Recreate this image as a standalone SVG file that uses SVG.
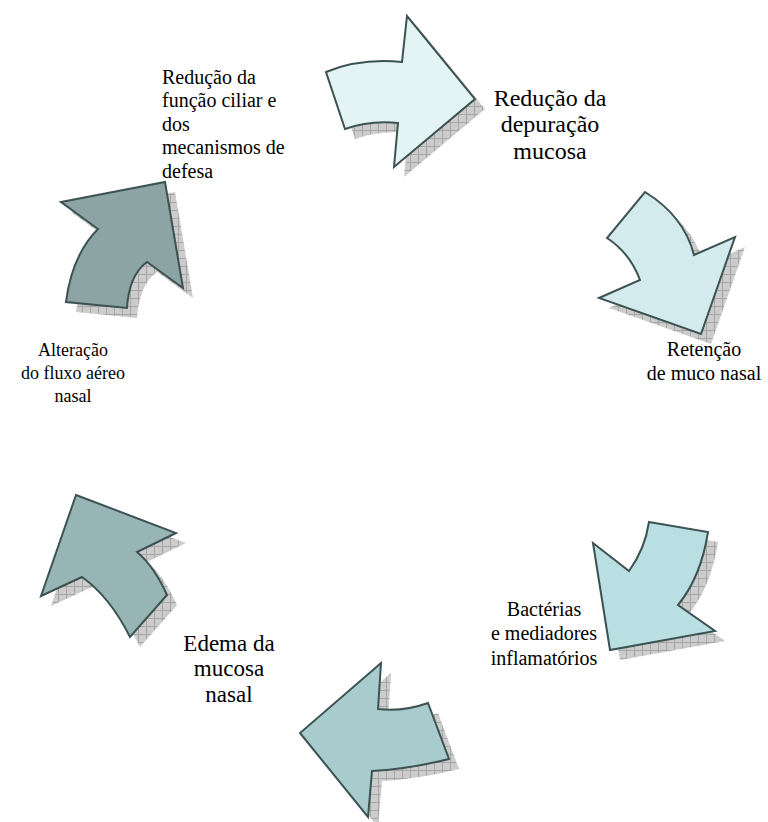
<svg xmlns="http://www.w3.org/2000/svg" width="768" height="822" viewBox="0 0 768 822">
<defs>
<pattern id="hatch" width="8" height="8" patternUnits="userSpaceOnUse">
<rect width="8" height="8" fill="#cccccc"/>
<path d="M0,0.5H8M0.5,0V8" stroke="#a6a6a6" stroke-width="1"/>
</pattern>
</defs>
<style>
.sh{fill:url(#hatch);stroke:none}
.ar{stroke:#3d5252;stroke-width:2;stroke-linejoin:miter}
text{font-family:'Liberation Serif','Times New Roman',serif;fill:#000}
</style>
<rect width="768" height="822" fill="#fff"/>
<g id="arrow1">
<path class="sh" transform="translate(10,10)" d="M326,72 Q360,58 402,62 L407,16 L475,99 L394,167 L398,123 Q370,120 345,129 Z"/>
<path class="ar" fill="#e4f4f4" d="M326,72 Q360,58 402,62 L407,16 L475,99 L394,167 L398,123 Q370,120 345,129 Z"/>
</g>
<g id="arrow2">
<path class="sh" transform="translate(10,10)" d="M645,192 Q684,216 694,255 L735,237 L701,334 L599,298 L640,280 Q630,253 607,238 Z"/>
<path class="ar" fill="#d3ebee" d="M645,192 Q684,216 694,255 L735,237 L701,334 L599,298 L640,280 Q630,253 607,238 Z"/>
</g>
<g id="arrow3">
<path class="sh" transform="translate(10,10)" d="M649,522 L708,532 Q701,577 678,605 L715,631 L610,650 L593,543 L629,571 Q645,549 649,522 Z"/>
<path class="ar" fill="#badfe3" d="M649,522 L708,532 Q701,577 678,605 L715,631 L610,650 L593,543 L629,571 Q645,549 649,522 Z"/>
</g>
<g id="arrow4">
<path class="sh" transform="translate(10,10)" d="M381,663 L378,709 Q403,712 428,703 L449,759 Q409,769 372,771 L368,817 L300,733 Z"/>
<path class="ar" fill="#a8cbcd" d="M381,663 L378,709 Q403,712 428,703 L449,759 Q409,769 372,771 L368,817 L300,733 Z"/>
</g>
<g id="arrow5">
<path class="sh" transform="translate(10,10)" d="M76,495 L176,533 L137,552 Q154,566 167,595 L130,637 Q110,597 82,577 L41,596 Z"/>
<path class="ar" fill="#97b5b5" d="M76,495 L176,533 L137,552 Q154,566 167,595 L130,637 Q110,597 82,577 L41,596 Z"/>
</g>
<g id="arrow6">
<path class="sh" transform="translate(10,10)" d="M61,202 L165,182 L183,288 L147,262 Q129,275 127,308 L66,302 Q72,255 98,229 Z"/>
<path class="ar" fill="#8ca5a4" d="M61,202 L165,182 L183,288 L147,262 Q129,275 127,308 L66,302 Q72,255 98,229 Z"/>
</g>
<g id="label1" font-size="20">
<text x="162" y="84">Redução da</text>
<text x="162" y="107">função ciliar e</text>
<text x="162" y="131">dos</text>
<text x="162" y="154">mecanismos de</text>
<text x="162" y="178">defesa</text>
</g>
<g id="label2" font-size="24" text-anchor="middle">
<text x="550" y="106">Redução da</text>
<text x="550" y="132">depuração</text>
<text x="550" y="159">mucosa</text>
</g>
<g id="label3" font-size="20" text-anchor="middle">
<text x="704" y="356">Retenção</text>
<text x="704" y="380">de muco nasal</text>
</g>
<g id="label4" font-size="20" text-anchor="middle">
<text x="544" y="616">Bactérias</text>
<text x="544" y="640">e mediadores</text>
<text x="544" y="665">inflamatórios</text>
</g>
<g id="label5" font-size="23" text-anchor="middle">
<text x="229" y="651">Edema da</text>
<text x="229" y="676">mucosa</text>
<text x="229" y="702">nasal</text>
</g>
<g id="label6" font-size="18" text-anchor="middle">
<text x="73" y="356">Alteração</text>
<text x="73" y="379">do fluxo aéreo</text>
<text x="73" y="402">nasal</text>
</g>
<g id="connectors"></g>
</svg>
